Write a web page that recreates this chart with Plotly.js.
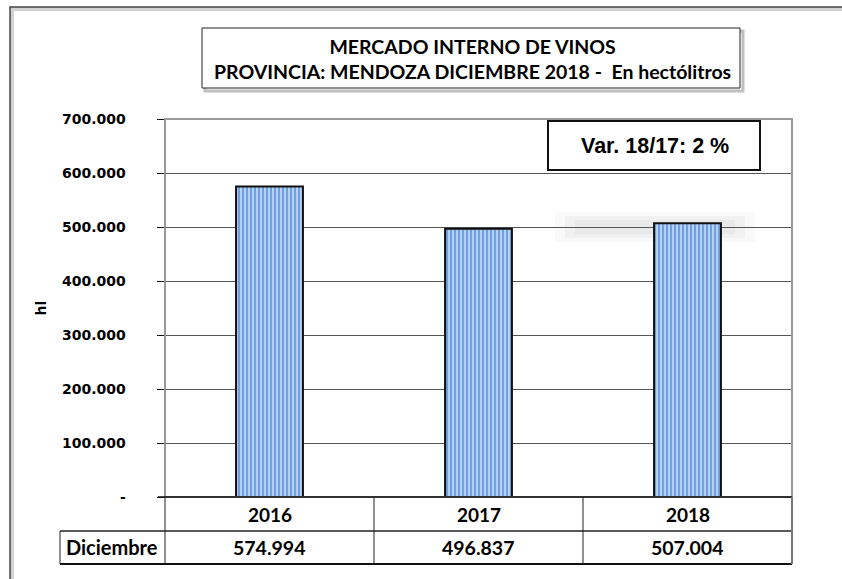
<!DOCTYPE html>
<html>
<head>
<meta charset="utf-8">
<script src="https://cdn.plot.ly/plotly-3.0.1.min.js"></script>
<style>
  body { margin: 0; background: #fff; }
  #chart { width: 842px; height: 579px; }
</style>
</head>
<body>
<div id="chart"></div>
<script>
// Chart data
const years = ['2016', '2017', '2018'];
const hectolitros = [574994, 496837, 507004];
const rowLabel = 'Diciembre';
const yTicks = [0, 100000, 200000, 300000, 400000, 500000, 600000, 700000];
const titleLines = ['MERCADO INTERNO DE VINOS', 'PROVINCIA: MENDOZA DICIEMBRE 2018 -  En hectólitros'];
const varText = 'Var. 18/17: 2 %';

// thousands with dots, zero as "-"
const fmt = v => v === 0 ? '-' : String(Math.round(v)).replace(/\B(?=(\d{3})+(?!\d))/g, '.');

// plot area in page pixels
const L = 165, R = 792, T = 119, B = 497;
const px = x => (x - L) / (R - L);
const py = y => (B - y) / (B - T);

const calibri = 'Lato, "Open Sans", sans-serif';

const trace = {
    x: years,
    y: hectolitros,
    type: 'bar',
    marker: {
        color: '#a9c6ee',
        line: { color: '#111', width: 2 },
        pattern: { shape: '|', fgcolor: '#4f8ddf', bgcolor: '#b7d0f2', size: 4, solidity: 0.35 }
    },
    hoverinfo: 'skip'
};

const shapes = [];
const line = (x0, y0, x1, y1, color, width) => shapes.push({
    type: 'line', xref: 'paper', yref: 'paper',
    x0: px(x0), y0: py(y0), x1: px(x1), y1: py(y1),
    line: { color: color, width: width }
});
const rect = (x0, y0, x1, y1, color, width, fill, layer) => shapes.push({
    type: 'rect', xref: 'paper', yref: 'paper', layer: layer || 'above',
    x0: px(x0), y0: py(y0), x1: px(x1), y1: py(y1),
    line: { color: color, width: width }, fillcolor: fill || 'rgba(0,0,0,0)'
});

// faint blurred shadow behind the 2018 bar top (stacked soft rects)
rect(555, 212, 755, 242, 'rgba(0,0,0,0)', 0, 'rgba(0,0,0,0.025)', 'below');
rect(565, 216, 745, 238, 'rgba(0,0,0,0)', 0, 'rgba(0,0,0,0.03)', 'below');
rect(575, 220, 735, 234, 'rgba(0,0,0,0)', 0, 'rgba(0,0,0,0.03)', 'below');

// outer frame with shadow
rect(12, 9, 860, 600, 'rgba(0,0,0,0.18)', 4);
rect(10, 7, 860, 600, '#444', 1.5);
// plot area border (gray)
rect(L, T, R, B, '#999', 2);
// title box with shadow
rect(205, 31, 743, 91, 'rgba(0,0,0,0.25)', 3);
rect(202, 28, 740, 88, '#222', 1, '#fff');
// var box
rect(548, 121, 760, 170, '#111', 2, '#fff');
// table
line(158, B, R, B, '#111', 1.5);
line(60, 531, R, 531, '#222', 1.5);
line(60, 564, R, 564, '#111', 2);
line(60, 531, 60, 564, '#222', 1);
line(L, B, L, 564, '#222', 1);
const colW = (R - L) / years.length;
for (let i = 1; i < years.length; i++) line(L + colW * i, B, L + colW * i, 564, '#222', 1);
line(R, B, R, 564, '#777', 2);

const annotations = [
    {
        text: '<b>' + titleLines.join('<br>') + '</b>',
        xref: 'paper', yref: 'paper', x: px(472), y: py(59),
        xanchor: 'center', yanchor: 'middle', showarrow: false,
        font: { family: calibri, size: 19.5, color: '#000' }
    },
    {
        text: '<b>' + varText + '</b>',
        xref: 'paper', yref: 'paper', x: px(655), y: py(146),
        xanchor: 'center', yanchor: 'middle', showarrow: false,
        font: { family: 'Liberation Sans, Arial, sans-serif', size: 21.5, color: '#000' }
    },
    {
        text: '<b>' + rowLabel + '</b>',
        xref: 'paper', yref: 'paper', x: px(112), y: py(547),
        xanchor: 'center', yanchor: 'middle', showarrow: false,
        font: { family: calibri, size: 20, color: '#000' }
    }
];
// category index positions for the table cells
years.forEach((yr, i) => {
    annotations.push({
        text: '<b>' + yr + '</b>', xref: 'x', yref: 'paper', x: i, y: py(514),
        xanchor: 'center', yanchor: 'middle', showarrow: false,
        font: { family: calibri, size: 19, color: '#000' }
    });
    annotations.push({
        text: '<b>' + fmt(hectolitros[i]) + '</b>', xref: 'x', yref: 'paper', x: i, y: py(547),
        xanchor: 'center', yanchor: 'middle', showarrow: false,
        font: { family: calibri, size: 19.5, color: '#000' }
    });
});

const layout = {
    width: 842,
    height: 579,
    margin: { l: L, r: 842 - R, t: T, b: 579 - B },
    paper_bgcolor: '#fff',
    plot_bgcolor: '#fff',
    showlegend: false,
    bargap: 0.68,
    xaxis: {
        type: 'category',
        range: [-0.5, years.length - 0.5],
        showticklabels: false,
        showgrid: false,
        zeroline: false,
        ticks: ''
    },
    yaxis: {
        range: [0, 700000],
        tickvals: yTicks,
        ticktext: yTicks.map(fmt),
        ticks: 'outside',
        ticklen: 7,
        tickcolor: '#111',
        ticklabelstandoff: 28,
        tickfont: { family: 'DejaVu Sans, sans-serif', size: 14, weight: 'bold', color: '#000' },
        showline: true,
        linecolor: '#111',
        linewidth: 1.5,
        showgrid: true,
        gridcolor: '#555',
        gridwidth: 1,
        zeroline: false,
        title: {
            text: '<b>hl</b>',
            standoff: 12,
            font: { family: 'DejaVu Sans, sans-serif', size: 14, color: '#000' }
        }
    },
    shapes: shapes,
    annotations: annotations
};

Plotly.newPlot('chart', [trace], layout, { staticPlot: true });
</script>
</body>
</html>
